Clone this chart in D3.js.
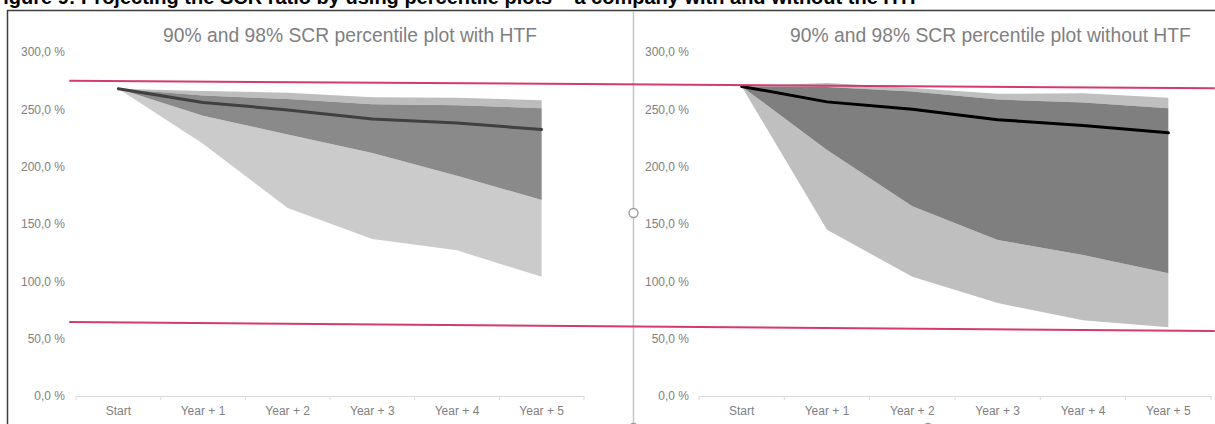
<!DOCTYPE html>
<html>
<head>
<meta charset="utf-8">
<script src="https://cdn.jsdelivr.net/npm/d3@7"></script>
<style>
  html, body { margin: 0; padding: 0; background: #ffffff; }
  svg { display: block; font-family: "Liberation Sans", Arial, sans-serif; }
</style>
</head>
<body>
<svg id="chart" width="1215" height="424"></svg>
<script>
// ---- Data -------------------------------------------------------------
const categories = ["Start", "Year + 1", "Year + 2", "Year + 3", "Year + 4", "Year + 5"];
const yTickValues = [0, 50, 100, 150, 200, 250, 300];

// SCR ratio percentiles (%), projection with HTF
const withHtfP01 = [268, 220, 164, 137, 127, 104];
const withHtfP05 = [268, 244.5, 228, 212, 192, 171];
const withHtfP50 = [268, 256, 249.5, 241.5, 238, 232.5];
const withHtfP95 = [268, 262, 259, 254.5, 253.5, 251];
const withHtfP99 = [268, 266, 264.5, 260.5, 260, 258];

// SCR ratio percentiles (%), projection without HTF
const withoutHtfP01 = [270, 145, 104, 81, 66, 60];
const withoutHtfP05 = [270, 214.5, 165.5, 136, 123, 107];
const withoutHtfP50 = [270, 256.5, 250, 241, 236, 229.5];
const withoutHtfP95 = [270, 269.5, 265.5, 258.5, 256, 251];
const withoutHtfP99 = [270, 273, 268.5, 263.5, 264, 260];

const panelTitles = [
  "90% and 98% SCR percentile plot with HTF",
  "90% and 98% SCR percentile plot without HTF"
];

// Hand-drawn limit markers, in the first panel's units (category index, %)
const limitMarkers = [
  { from: [-0.58, 275.0], to: [12.95, 268.3] },
  { from: [-0.58, 64.5], to: [12.95, 56.7] }
];

const captionText = "Figure 9: Projecting the SCR ratio by using percentile plots – a company with and without the HTF";

// ---- Layout -------------------------------------------------------------
const svg = d3.select("#chart");
const yTop = 52, yBottom = 396;

const panels = [
  {
    title: panelTitles[0], titleX: 163,
    xRange: [76, 584], labelX: 65,
    p01: withHtfP01, p05: withHtfP05, p50: withHtfP50, p95: withHtfP95, p99: withHtfP99,
    fillLow: "#cacbca", fillMid: "#8a8a8a", fillHigh: "#bdbdbd", lineColor: "#404040"
  },
  {
    title: panelTitles[1], titleX: 790,
    xRange: [699, 1211], labelX: 689,
    p01: withoutHtfP01, p05: withoutHtfP05, p50: withoutHtfP50, p95: withoutHtfP95, p99: withoutHtfP99,
    fillLow: "#bfbfbf", fillMid: "#7f7f7f", fillHigh: "#bfbfbf", lineColor: "#000000"
  }
];

const y = d3.scaleLinear().domain([0, 300]).range([yBottom, yTop]);
const fmt = v => d3.format(".1f")(v).replace(".", ",") + " %";

// Figure caption above the frame (only its lower edge falls inside the view)
svg.append("text")
  .attr("x", -9).attr("y", 4)
  .attr("font-size", 20).attr("font-weight", "bold").attr("fill", "#000")
  .text(captionText);

panels.forEach(p => {
  const g = svg.append("g");
  const x = d3.scalePoint().domain(categories).range(p.xRange).padding(0.5);
  const band = d3.scaleBand().domain(categories).range(p.xRange);
  const rows = categories.map((c, i) => ({
    c, p01: p.p01[i], p05: p.p05[i], p50: p.p50[i], p95: p.p95[i], p99: p.p99[i]
  }));

  // title
  g.append("text")
    .attr("x", p.titleX).attr("y", 41.5)
    .attr("font-size", 19.3).attr("fill", "#808080")
    .text(p.title);

  // y tick labels (no axis line)
  const yAxis = d3.axisLeft(y).tickValues(yTickValues).tickFormat(fmt).tickSize(0).tickPadding(0);
  const ya = g.append("g").attr("transform", `translate(${p.labelX},0)`).call(yAxis);
  ya.select(".domain").remove();
  ya.selectAll("text").attr("font-size", 12).attr("fill", "#808080")
    .attr("font-family", "Liberation Sans, Arial, sans-serif");

  // bands
  const area = (lo, hi) => d3.area()
    .x(d => x(d.c)).y0(d => y(d[lo])).y1(d => y(d[hi]));
  g.append("path").datum(rows).attr("d", area("p01", "p05")).attr("fill", p.fillLow);
  g.append("path").datum(rows).attr("d", area("p95", "p99")).attr("fill", p.fillHigh);
  g.append("path").datum(rows).attr("d", area("p05", "p95")).attr("fill", p.fillMid);

  // median line
  g.append("path").datum(rows)
    .attr("d", d3.line().x(d => x(d.c)).y(d => y(d.p50)))
    .attr("fill", "none").attr("stroke", p.lineColor)
    .attr("stroke-width", 3).attr("stroke-linejoin", "round").attr("stroke-linecap", "round");

  // category axis
  const xAxis = d3.axisBottom(band).tickSize(0).tickPadding(10);
  const xa = g.append("g").attr("transform", `translate(0,${yBottom})`).call(xAxis);
  xa.select(".domain").attr("stroke", "#d9d9d9").attr("stroke-width", 1);
  xa.selectAll("text").attr("font-size", 12).attr("fill", "#808080")
    .attr("font-family", "Liberation Sans, Arial, sans-serif");
  const bounds = d3.range(categories.length + 1).map(i => p.xRange[0] + i * band.step());
  xa.selectAll("line.bound").data(bounds).join("line").attr("class", "bound")
    .attr("x1", d => d).attr("x2", d => d).attr("y1", 0).attr("y2", 4)
    .attr("stroke", "#d9d9d9").attr("stroke-width", 1);
});

// ---- Frame, selection border and handles --------------------------------
svg.append("line").attr("x1", 7).attr("x2", 1215).attr("y1", 10.5).attr("y2", 10.5)
  .attr("stroke", "#3c3c3c").attr("stroke-width", 1.5);
svg.append("line").attr("x1", 7.5).attr("x2", 7.5).attr("y1", 10).attr("y2", 424)
  .attr("stroke", "#3c3c3c").attr("stroke-width", 1.5);
svg.append("line").attr("x1", 633.5).attr("x2", 633.5).attr("y1", 11).attr("y2", 424)
  .attr("stroke", "#c4c4c4").attr("stroke-width", 1.5);
[[633.5, 213], [633.5, 428], [928, 428]].forEach(([cx, cy]) => {
  svg.append("circle").attr("cx", cx).attr("cy", cy).attr("r", 4.5)
    .attr("fill", "#fff").attr("stroke", "#9a9a9a").attr("stroke-width", 1.3);
});

// ---- Limit markers drawn across both panels --------------------------------
const firstX = d3.scalePoint().domain(categories).range(panels[0].xRange).padding(0.5);
const xIdx = d3.scaleLinear().domain([0, categories.length - 1])
  .range([firstX(categories[0]), firstX(categories[categories.length - 1])]);
svg.selectAll("line.limit").data(limitMarkers).join("line").attr("class", "limit")
  .attr("x1", d => xIdx(d.from[0])).attr("y1", d => y(d.from[1]))
  .attr("x2", d => xIdx(d.to[0])).attr("y2", d => y(d.to[1]))
  .attr("stroke", "#d43a6f").attr("stroke-width", 2);
</script>
</body>
</html>
